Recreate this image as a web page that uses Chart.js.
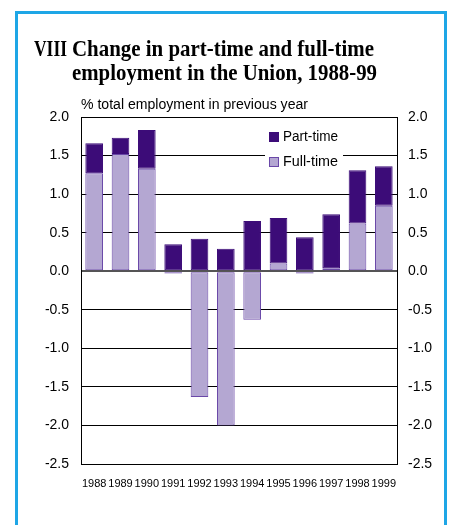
<!DOCTYPE html>
<html lang="en">
  <head>
    <meta charset="UTF-8" />
    <title>Change in part-time and full-time employment</title>
    <script src="https://cdn.jsdelivr.net/npm/chart.js@4.4.1/dist/chart.umd.min.js"></script>
    <style>
      body {
        margin: 0;
        background-color: #ffffff;
        font-family: "Liberation Sans", Arial, sans-serif;
      }
      .frame {
        position: absolute;
        left: 15px;
        top: 11px;
        width: 426px;
        height: 600px;
        border: 3px solid #1ea6e6;
      }
      .chart-box {
        position: absolute;
        left: 0;
        top: 0;
        width: 450px;
        height: 525px;
      }
    </style>
  </head>
  <body>
    <div class="frame"></div>
    <div class="chart-box">
      <canvas id="employmentChart" width="450" height="525"></canvas>
    </div>

    <script>
      // Data
      const years = ["1988", "1989", "1990", "1991", "1992", "1993", "1994", "1995", "1996", "1997", "1998", "1999"];
      const partTime = [0.39, 0.21, 0.5, 0.35, 0.42, 0.29, 0.65, 0.59, 0.44, 0.7, 0.69, 0.51];
      const fullTime = [1.27, 1.52, 1.33, -0.03, -1.63, -2.0, -0.63, 0.1, -0.03, 0.04, 0.62, 0.85];
      const yMin = -2.5;
      const yMax = 2.0;
      const yStep = 0.5;

      const titleLines = ["Change in part-time and full-time", "employment in the Union, 1988-99"];
      const subtitle = "% total employment in previous year";

      // draw text squeezed/stretched to a given width
      function fitText(ctx, text, x, y, w) {
        const m = ctx.measureText(text).width;
        ctx.save();
        ctx.translate(x, y);
        ctx.scale(w / m, 1);
        ctx.fillText(text, 0, 0);
        ctx.restore();
      }

      // Title, subtitle and the boxed legend
      const decorPlugin = {
        id: "decor",
        beforeDatasetsDraw(chart) {
          const ctx = chart.ctx;
          const ds = chart.data.datasets;
          ctx.save();
          ctx.fillStyle = "#ffffff";
          ctx.fillRect(265, 125, 78, 46);
          // legend, part-time first
          const items = [ds[1], ds[0]];
          ctx.font = '14px "Liberation Sans", Arial, sans-serif';
          ctx.textBaseline = "middle";
          items.forEach((d, i) => {
            const y = 132 + i * 25;
            ctx.fillStyle = d.backgroundColor;
            ctx.fillRect(269, y, 10, 10);
            ctx.strokeStyle = d.borderColor;
            ctx.lineWidth = 1;
            ctx.strokeRect(269.5, y + 0.5, 9, 9);
            ctx.fillStyle = "#000000";
            fitText(ctx, d.label, 283, y + 5, 55);
          });
          ctx.restore();
        },
        afterDraw(chart) {
          const ctx = chart.ctx;
          ctx.save();
          ctx.fillStyle = "#000000";
          ctx.textBaseline = "alphabetic";
          ctx.font = 'bold 23px "Liberation Serif", "Times New Roman", serif';
          fitText(ctx, "VIII", 34, 56, 33);
          fitText(ctx, titleLines[0], 72, 56, 302);
          fitText(ctx, titleLines[1], 72, 80, 305);
          ctx.font = '14px "Liberation Sans", Arial, sans-serif';
          fitText(ctx, subtitle, 81, 109, 227);
          ctx.restore();
        },
      };

      const ctx = document.getElementById("employmentChart").getContext("2d");
      const chart = new Chart(ctx, {
        type: "bar",
        data: {
          labels: years,
          datasets: [
            {
              label: "Full-time",
              data: fullTime,
              backgroundColor: "#b4a7d2",
              borderColor: "#6a48a8",
              borderWidth: 1,
              borderSkipped: false,
              barPercentage: 0.67,
              categoryPercentage: 1.0,
            },
            {
              label: "Part-time",
              data: partTime,
              backgroundColor: "#3c0c78",
              borderColor: "#3c0c78",
              borderWidth: 1,
              borderSkipped: false,
              barPercentage: 0.67,
              categoryPercentage: 1.0,
            },
          ],
        },
        options: {
          responsive: false,
          animation: false,
          layout: {
            padding: { top: 117, left: 0, right: 0, bottom: 0 },
          },
          plugins: {
            legend: { display: false },
            title: { display: false },
            tooltip: { enabled: false },
          },
          scales: {
            x: {
              stacked: true,
              grid: { display: false, drawTicks: false },
              border: { display: true, color: "#000000", width: 1 },
              ticks: {
                color: "#000000",
                padding: 13,
                maxRotation: 0,
                autoSkip: false,
                font: { family: '"Liberation Sans", Arial, sans-serif', size: 11 },
              },
              afterFit: (scale) => {
                scale.height = 61;
              },
            },
            y: {
              stacked: true,
              position: "left",
              min: yMin,
              max: yMax,
              grid: {
                drawTicks: false,
                color: (c) => (c.tick && c.tick.value === 0 ? "#555555" : "#000000"),
                lineWidth: (c) => (c.tick && c.tick.value === 0 ? 2 : 1),
              },
              border: { display: true, color: "#000000", width: 1 },
              ticks: {
                stepSize: yStep,
                color: "#000000",
                padding: 12,
                font: { family: '"Liberation Sans", Arial, sans-serif', size: 14 },
                callback: (v) => Number(v).toFixed(1),
              },
              afterFit: (scale) => {
                scale.width = 81;
              },
            },
            y2: {
              position: "right",
              min: yMin,
              max: yMax,
              grid: { display: false, drawTicks: false },
              border: { display: true, color: "#000000", width: 1 },
              ticks: {
                stepSize: yStep,
                color: "#000000",
                padding: 11,
                font: { family: '"Liberation Sans", Arial, sans-serif', size: 14 },
                callback: (v) => Number(v).toFixed(1),
              },
              afterFit: (scale) => {
                scale.width = 53;
              },
            },
          },
        },
        plugins: [decorPlugin],
      });
    </script>
  </body>
</html>
